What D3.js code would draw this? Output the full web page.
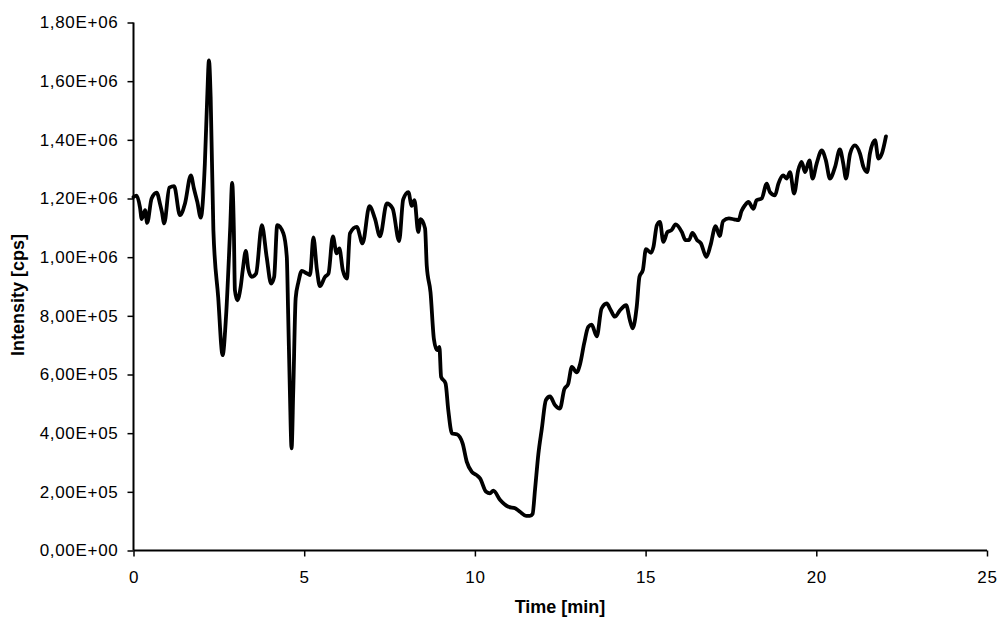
<!DOCTYPE html>
<meta charset="utf-8">
<style>
  body { margin: 0; background: #fff; }
  text { font-family: "Liberation Sans", Arial, sans-serif; }
</style>
<body>
<script src="https://d3js.org/d3.v7.min.js"></script>
<script>
  // time [min]
  var times = [0, 0.09, 0.19, 0.24, 0.34, 0.40, 0.53, 0.68, 0.78, 0.83, 0.90, 1.05, 1.19, 1.36, 1.51,
    1.68, 1.77, 1.87, 1.97, 2.09, 2.16, 2.21, 2.26, 2.34, 2.48, 2.61, 2.71, 2.83, 2.89, 2.94, 2.97,
    3.04, 3.14, 3.20, 3.29, 3.36, 3.46, 3.59, 3.76, 3.90, 4.03, 4.12, 4.21, 4.39, 4.49, 4.53, 4.58,
    4.63, 4.68, 4.75, 4.83, 4.93, 5.07, 5.17, 5.27, 5.37, 5.46, 5.61, 5.71, 5.84, 5.95, 6.03, 6.13,
    6.25, 6.34, 6.54, 6.71, 6.91, 7.07, 7.22, 7.42, 7.59, 7.78, 7.90, 8.05, 8.15, 8.23, 8.34, 8.41,
    8.54, 8.59, 8.70, 8.80, 8.89, 8.96, 9.01, 9.14, 9.22, 9.33, 9.47, 9.64, 9.76, 9.91, 10.05, 10.15,
    10.33, 10.44, 10.54, 10.74, 10.98, 11.18, 11.32, 11.50, 11.61, 11.69, 11.76, 11.86, 11.96, 12.08,
    12.20, 12.35, 12.49, 12.62, 12.73, 12.84, 12.98, 13.08, 13.20, 13.32, 13.42, 13.57, 13.71, 13.86,
    13.98, 14.10, 14.25, 14.43, 14.54, 14.62, 14.74, 14.82, 14.92, 15.01, 15.16, 15.23, 15.33, 15.42,
    15.52, 15.64, 15.76, 15.88, 16.06, 16.17, 16.27, 16.37, 16.51, 16.62, 16.78, 16.90, 17.05, 17.17,
    17.27, 17.44, 17.59, 17.72, 17.81, 17.91, 18.01, 18.16, 18.25, 18.40, 18.55, 18.64, 18.79, 18.89,
    19.03, 19.13, 19.23, 19.35, 19.47, 19.57, 19.67, 19.80, 19.89, 20.01, 20.16, 20.28, 20.40, 20.55,
    20.69, 20.79, 20.87, 20.99, 21.13, 21.28, 21.38, 21.49, 21.57, 21.72, 21.82, 21.92, 22.04];

  // intensity [cps]
  var intensity = [1205000, 1210000, 1170000, 1130000, 1160000, 1117000, 1200000, 1220000, 1180000, 1155000,
    1115000, 1237000, 1242000, 1143000, 1184000, 1279000, 1234000, 1188000, 1135000, 1319000, 1546000,
    1671000, 1546000, 1092000, 865000, 666000, 797000, 1092000, 1253000, 1090000, 888000,
    853000, 899000, 956000, 1021000, 961000, 933000, 944000, 1109000, 1001000, 910000, 933000, 1109000,
    1081000, 1001000, 808000, 547000, 348000, 547000, 860000, 915000, 953000, 945000, 939000, 1067000,
    960000, 901000, 933000, 944000, 1071000, 1013000, 1030000, 956000, 927000, 1081000, 1103000, 1047000,
    1174000, 1132000, 1071000, 1183000, 1166000, 1055000, 1197000, 1222000, 1175000, 1194000, 1086000,
    1130000, 1098000, 970000, 880000, 720000, 683000, 694000, 592000, 570000, 479000, 399000, 396000,
    365000, 303000, 268000, 257000, 246000, 200000, 195000, 204000, 172000, 149000, 144000, 132000,
    118000, 118000, 125000, 206000, 330000, 415000, 513000, 525000, 495000, 484000, 550000, 567000,
    626000, 607000, 635000, 706000, 762000, 770000, 730000, 825000, 842000, 819000, 797000, 819000,
    836000, 785000, 757000, 831000, 933000, 956000, 1027000, 1015000, 1035000, 1109000, 1120000,
    1052000, 1086000, 1092000, 1112000, 1086000, 1058000, 1058000, 1083000, 1058000, 1047000, 1001000,
    1040000, 1106000, 1072000, 1123000, 1132000, 1129000, 1126000, 1157000, 1177000, 1188000, 1165000,
    1194000, 1200000, 1251000, 1222000, 1211000, 1251000, 1279000, 1268000, 1290000, 1217000, 1296000,
    1325000, 1290000, 1330000, 1268000, 1319000, 1364000, 1330000, 1268000, 1308000, 1367000, 1319000,
    1268000, 1353000, 1381000, 1353000, 1308000, 1290000, 1353000, 1399000, 1336000, 1353000, 1412000];

  var xTicks = [0, 5, 10, 15, 20, 25];
  var yTicks = [0, 200000, 400000, 600000, 800000, 1000000, 1200000, 1400000, 1600000, 1800000];

  var data = times.map(function(t, i) { return {t: t, v: intensity[i]}; });

  var svg = d3.select("body").append("svg")
      .attr("width", 999)
      .attr("height", 619);

  var margin = {top: 22.5, right: 12, bottom: 68.5, left: 133.5},
      width = 999 - margin.left - margin.right,
      height = 619 - margin.top - margin.bottom,
      g = svg.append("g").attr("transform", "translate(" + margin.left + "," + margin.top + ")");

  var x = d3.scaleLinear().domain([0, 25]).range([0, 853.5]);
  var y = d3.scaleLinear().domain([0, 1800000]).range([height, 0]);

  // format like 1,80E+06
  function sci(v) {
    if (v === 0) return "0,00E+00";
    var e = Math.floor(Math.log10(v));
    var m = v / Math.pow(10, e);
    return m.toFixed(2).replace(".", ",") + "E+" + (e < 10 ? "0" + e : e);
  }

  var xAxis = g.append("g")
      .attr("transform", "translate(0," + height + ")")
      .call(d3.axisBottom(x).tickValues(xTicks).tickSize(6).tickPadding(14).tickFormat(d3.format("d")));

  var yAxis = g.append("g")
      .call(d3.axisLeft(y).tickValues(yTicks).tickSize(6).tickPadding(9).tickFormat(sci));

  [xAxis, yAxis].forEach(function(a) {
    a.selectAll("path").attr("stroke", "#000").attr("stroke-width", 2);
    a.selectAll("line").attr("stroke", "#000").attr("stroke-width", 1.5);
    a.selectAll("text")
      .attr("fill", "#000")
      .style("font-family", "'Liberation Sans', Arial, sans-serif")
      .style("font-size", "17px")
      .style("letter-spacing", "0.7px");
  });
  xAxis.select(".domain").attr("d", "M0,0H" + x(25));
  yAxis.select(".domain").attr("d", "M0," + height + "V0");

  var line = d3.line()
      .x(function(d) { return x(d.t); })
      .y(function(d) { return y(d.v); })
      .curve(d3.curveMonotoneX);

  g.append("path")
      .datum(data)
      .attr("d", line)
      .attr("fill", "none")
      .attr("stroke", "#000")
      .attr("stroke-width", 3.8)
      .attr("stroke-linejoin", "round")
      .attr("stroke-linecap", "round");

  svg.append("text")
      .attr("x", 560)
      .attr("y", 613)
      .attr("text-anchor", "middle")
      .style("font-size", "18px")
      .style("font-weight", "bold")
      .text("Time [min]");

  svg.append("text")
      .attr("transform", "translate(24,295) rotate(-90)")
      .attr("text-anchor", "middle")
      .style("font-size", "18px")
      .style("font-weight", "bold")
      .text("Intensity [cps]");
</script>
</body>
